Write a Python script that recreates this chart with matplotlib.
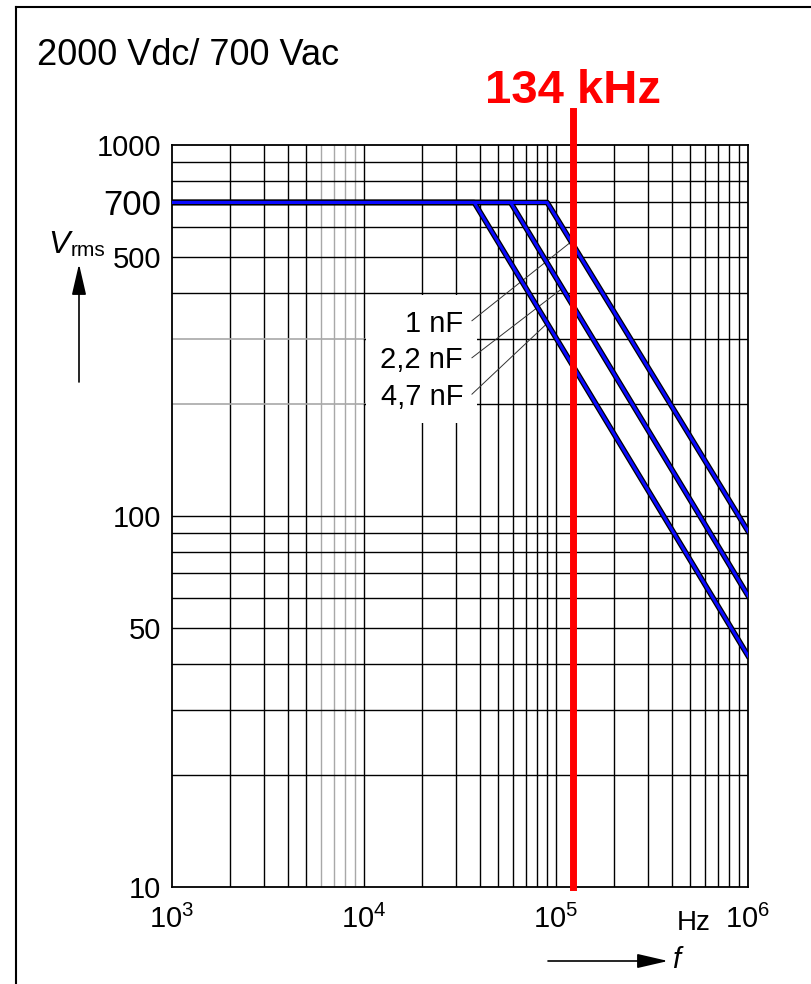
import math
import matplotlib
matplotlib.use("Agg")
import matplotlib.pyplot as plt
import matplotlib.transforms as mtransforms
from matplotlib.lines import Line2D
from matplotlib.patches import Rectangle
from matplotlib.ticker import NullLocator

plt.rcParams['font.family'] = ['Liberation Sans', 'DejaVu Sans']
plt.rcParams['mathtext.fontset'] = 'custom'
plt.rcParams['mathtext.rm'] = 'Liberation Sans'
plt.rcParams['mathtext.it'] = 'Liberation Sans:italic'
plt.rcParams['mathtext.bf'] = 'Liberation Sans:bold'

# values
capacitances = ['1 nF', '2,2 nF', '4,7 nF']
knee_freq = [90e3, 58e3, 37.5e3]   # Hz, end of the 700 V plateau
v_at_1mhz = [91, 61, 42]            # Vrms at 10^6 Hz
v_max = 700
f_start, f_end = 1e3, 1e6
marker_freq = 1.22e5                # red line (drawn a bit left of 134 kHz)
marker_label = '134 kHz'

yticks = [10, 50, 100, 500, 700, 1000]
yticklabels = ['10', '50', '100', '500', '700', '1000']
xticks = [1e3, 1e4, 1e5, 1e6]
xticklabels = ['$10^3$', '$10^4$', '$10^5$', '$10^6$']

# label placement (layout only)
label_f = 32.8e3
label_v = [314, 251, 199]
leader_start_v = [336, 267, 213]
leader_start_f = 36.5e3
leader_end_f = [1.2e5, 1.08e5, 0.9e5]


def curve_v(f, kf, ve):
    if f <= kf:
        return v_max
    slope = math.log10(v_max / ve) / math.log10(f_end / kf)
    return v_max * (f / kf) ** (-slope)


fig = plt.figure(figsize=(8.11, 9.84), dpi=100)
ax = fig.add_axes([172 / 811, 1 - 887 / 984, 576 / 811, 742 / 984])
ax.set_xscale('log')
ax.set_yscale('log')
ax.set_xlim(f_start, f_end)
ax.set_ylim(10, 1000)

# grid, drawn by hand (first decade partly grey)
grey = '#a8a8a8'
for dec in [1e3, 1e4, 1e5]:
    for m in range(1, 10):
        if dec == 1e3 and m == 1:
            continue
        c = grey if (dec == 1e3 and m >= 6) else 'black'
        ax.axvline(m * dec, color=c, lw=1.0, zorder=1)
for dec in [10, 100]:
    for m in range(1, 10):
        v = m * dec
        if v == 10:
            continue
        if v in (200, 300):
            ax.plot([f_start, 1e4], [v, v], color=grey, lw=1.2, zorder=1)
            ax.plot([1e4, f_end], [v, v], color='black', lw=1.0, zorder=1)
        else:
            ax.axhline(v, color='black', lw=1.0, zorder=1)

# blank area behind the capacitance labels
ax.add_patch(Rectangle((1.03e4, 178), 3.86e4 - 1.03e4, 393 - 178,
                       facecolor='white', edgecolor='none', zorder=1.5))

# curves: black line with blue on top
for kf, ve in zip(knee_freq, v_at_1mhz):
    fx = [f_start, kf, f_end]
    vy = [v_max, v_max, ve]
    ax.plot(fx, vy, color='black', lw=4.0, zorder=3)
    ax.plot(fx, vy, color='#0a0aff', lw=2.2, zorder=4)

# labels with leader lines
for name, kf, ve, lv, sv, ef in zip(capacitances, knee_freq, v_at_1mhz,
                                    label_v, leader_start_v, leader_end_f):
    ax.text(label_f, lv, name, ha='right', va='baseline', fontsize=21, zorder=6)
    ax.plot([leader_start_f, ef], [sv, curve_v(ef, kf, ve)],
            color='#333333', lw=0.7, zorder=2)

# red marker
ax.axvline(marker_freq, ymin=0, ymax=1.046, color='#ff0000', lw=5,
           clip_on=False, zorder=5)
trans = mtransforms.blended_transform_factory(ax.transData, ax.transAxes)
ax.text(marker_freq, 1.0566, marker_label, transform=trans, ha='center',
        va='baseline', color='#ff0000', fontsize=34, fontweight='bold')

# ticks
ax.xaxis.set_minor_locator(NullLocator())
ax.yaxis.set_minor_locator(NullLocator())
ax.set_yticks(yticks)
ax.set_yticklabels(yticklabels, fontsize=21)
for lab in ax.get_yticklabels():
    if lab.get_text() == '700':
        lab.set_fontsize(25)
ax.set_xticks(xticks)
ax.set_xticklabels(xticklabels, fontsize=21)
ax.tick_params(axis='both', length=0)
ax.tick_params(axis='y', pad=8)
ax.tick_params(axis='x', pad=13)
for s in ax.spines.values():
    s.set_linewidth(1.3)

ax.text(0.906, -0.058, 'Hz', transform=ax.transAxes, ha='center',
        va='baseline', fontsize=20)

# axis names and arrows
fig.text(48 / 811, 1 - 253 / 984, 'V', fontsize=23, style='italic',
         va='baseline')
fig.text(71 / 811, 1 - 256 / 984, 'rms', fontsize=15, va='baseline')
ax.annotate('', xy=(79 / 811, 1 - 264 / 984), xytext=(79 / 811, 1 - 382 / 984),
            xycoords='figure fraction', textcoords='figure fraction',
            arrowprops=dict(arrowstyle='-|>,head_length=0.95,head_width=0.22',
                            color='black', lw=1.2, mutation_scale=20,
                            shrinkA=0, shrinkB=0))
fig.text(672 / 811, 1 - 968 / 984, 'f', fontsize=21, style='italic',
         va='baseline')
ax.annotate('', xy=(668 / 811, 1 - 961 / 984), xytext=(548 / 811, 1 - 961 / 984),
            xycoords='figure fraction', textcoords='figure fraction',
            arrowprops=dict(arrowstyle='-|>,head_length=0.95,head_width=0.22',
                            color='black', lw=1.2, mutation_scale=20,
                            shrinkA=0, shrinkB=0))

# title and outer frame
fig.text(37 / 811, 1 - 65 / 984, '2000 Vdc/ 700 Vac', fontsize=26,
         va='baseline')
fig.add_artist(Line2D([16 / 811, 16 / 811], [0, 1 - 7 / 984],
                      color='black', lw=1.5))
fig.add_artist(Line2D([16 / 811, 1], [1 - 7 / 984, 1 - 7 / 984],
                      color='black', lw=1.5))

fig.savefig('out.png', dpi=100)
